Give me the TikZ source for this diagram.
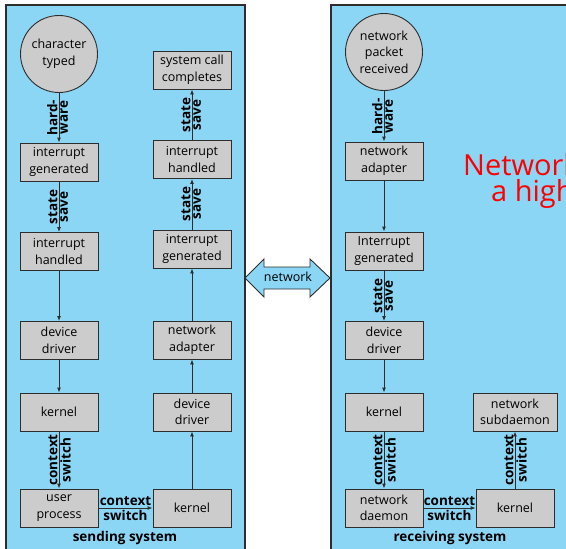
\documentclass[tikz,border=0pt]{standalone}
\usepackage{fontspec}
\setmainfont{Open Sans}
\usetikzlibrary{arrows.meta}
\definecolor{panelblue}{RGB}{140,214,245}
\definecolor{boxgray}{RGB}{204,204,204}
\definecolor{edgegray}{RGB}{45,45,45}
\tikzset{
  panel/.style={draw=edgegray, fill=panelblue, line width=1.1pt},
  stepbox/.style={draw=edgegray, fill=boxgray, line width=0.9pt, minimum width=78pt,
    minimum height=38pt, align=center, inner sep=1pt, font=\fontsize{12.5}{16.5}\selectfont},
  event/.style={circle, draw=edgegray, fill=boxgray, line width=0.9pt, minimum size=77pt,
    align=center, inner sep=0pt, font=\fontsize{12.5}{16.5}\selectfont},
  flow/.style={draw=edgegray, line width=0.9pt, -{Latex[length=5pt,width=4pt]}},
  tagfont/.style={font=\bfseries\fontsize{13.5}{15}\selectfont},
  tagL/.style={tagfont, midway, rotate=90, anchor=south, inner sep=1pt},
  tagR/.style={tagfont, midway, rotate=90, anchor=north, inner sep=1pt},
  tagA/.style={tagfont, midway, anchor=base, inner sep=0pt, yshift=2.5pt},
  tagB/.style={tagfont, midway, anchor=north, inner sep=0pt, yshift=-2pt},
  caption/.style={tagfont},
}
\begin{document}
\begin{tikzpicture}[x=1pt, y=-1pt]
\useasboundingbox (0,0) rectangle (566,549);
\clip (0,0) rectangle (566,549);

% the two machines
\draw[panel] (6,5) rectangle (245,560);
\draw[panel] (331,5) rectangle (580,560);

% sending system: input path
\node[event]   (ct)  at (59,54)    {character\\typed};
\node[stepbox] (ig1) at (59,162)   {interrupt\\generated};
\node[stepbox] (ih1) at (59,251.5) {interrupt\\handled};
\node[stepbox] (dd1) at (59,340.5) {device\\driver};
\node[stepbox] (k1)  at (59,412)   {kernel};
\node[stepbox] (up)  at (59,508)   {user\\process};

% sending system: output path
\node[stepbox] (scc) at (192,70)    {system call\\completes};
\node[stepbox] (ih2) at (192,159.5) {interrupt\\handled};
\node[stepbox] (ig2) at (192,249)   {interrupt\\generated};
\node[stepbox] (na1) at (192,340)   {network\\adapter};
\node[stepbox] (dd2) at (192,412)   {device\\driver};
\node[stepbox] (k2)  at (192,508)   {kernel};

\node[caption] (send) at (125,538) {sending system};

% receiving system
\node[event]   (npr) at (384,52)    {network\\packet\\received};
\node[stepbox] (na2) at (384,161)   {network\\adapter};
\node[stepbox] (ig3) at (384,251)   {Interrupt\\generated};
\node[stepbox] (dd3) at (384,340.5) {device\\driver};
\node[stepbox] (k3)  at (384,412)   {kernel};
\node[stepbox] (nd)  at (384,508)   {network\\daemon};
\node[stepbox, minimum width=84pt] (nsd) at (515,412) {network\\subdaemon};
\node[stepbox] (k4)  at (515,508)   {kernel};

\node[caption] (recv) at (450,538) {receiving system};

% flow on the sending side
\draw[flow] (ct) -- node[tagL]{hard-} node[tagR]{ware} (ig1);
\draw[flow] (ig1) -- node[tagL]{state} node[tagR]{save} (ih1);
\draw[flow] (ih1) -- (dd1);
\draw[flow] (dd1) -- (k1);
\draw[flow] (k1) -- node[tagL]{context} node[tagR]{switch} (up);
\draw[flow] (up) -- node[tagA]{context} node[tagB]{switch} (k2);
\draw[flow] (k2) -- (dd2);
\draw[flow] (dd2) -- (na1);
\draw[flow] (na1) -- (ig2);
\draw[flow] (ig2) -- node[tagL]{state} node[tagR]{save} (ih2);
\draw[flow] (ih2) -- node[tagL]{state} node[tagR]{save} (scc);

% flow on the receiving side
\draw[flow] (npr) -- node[tagL]{hard-} node[tagR]{ware} (na2);
\draw[flow] (na2) -- (ig3);
\draw[flow] (ig3) -- node[tagL]{state} node[tagR]{save} (dd3);
\draw[flow] (dd3) -- (k3);
\draw[flow] (k3) -- node[tagL]{context} node[tagR]{switch} (nd);
\draw[flow] (nd) -- node[tagA]{context} node[tagB]{switch} (k4);
\draw[flow] (k4) -- node[tagL]{context} node[tagR]{switch} (nsd);

% network link between the machines
\draw[draw=edgegray, fill=panelblue, line width=0.9pt]
  (245,278) -- (264,259) -- (264,267) -- (310,267) -- (310,259) -- (330,278)
  -- (310,297) -- (310,289) -- (264,289) -- (264,297) -- cycle;
\node[font=\fontsize{12.5}{15}\selectfont] (net) at (288,277) {network};

% red remark running off the right edge
\node[anchor=base west, text=red, inner sep=0pt, font=\fontsize{29}{30}\selectfont] (rem1) at (463,175) {Network};
\node[anchor=base west, text=red, inner sep=0pt, font=\fontsize{29}{30}\selectfont] (rem2) at (491,201) {a high};
\end{tikzpicture}
\end{document}
